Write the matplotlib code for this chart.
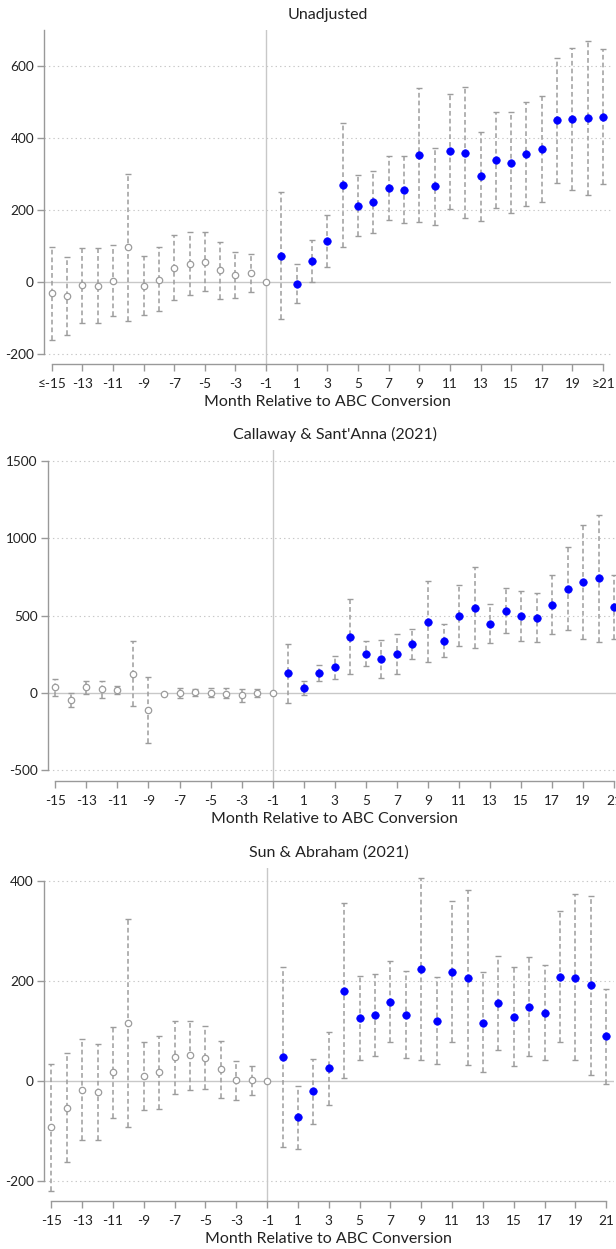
import numpy as np
import matplotlib
matplotlib.use("Agg")
import matplotlib.pyplot as plt

plt.rcParams['font.family'] = ['Lato', 'DejaVu Sans']
plt.rcParams['lines.scale_dashes'] = False

months = list(range(-15, 22))
nan = np.nan

# Panel 1: Unadjusted
unadj_est = [-32, -40, -10, -12, 3, 96, -12, 6, 38, 49, 56, 32, 18, 25, 0,
             72, -5, 58, 114, 269, 212, 223, 260, 256, 352, 267, 363, 358, 294, 339, 332, 356, 371, 450, 453, 456, 460]
unadj_lo = [-162, -149, -114, -114, -96, -110, -93, -82, -51, -37, -27, -47, -46, -28, nan,
            -105, -58, -1, 42, 97, 128, 137, 173, 163, 167, 159, 203, 177, 170, 206, 191, 211, 223, 275, 255, 242, 271]
unadj_hi = [96, 70, 95, 93, 103, 301, 71, 96, 129, 138, 139, 112, 82, 77, nan,
            251, 50, 117, 185, 443, 297, 309, 349, 351, 540, 373, 523, 541, 418, 474, 472, 501, 518, 624, 652, 671, 649]

# Panel 2: Callaway & Sant'Anna
cs_est = [37, -45, 37, 26, 19, 125, -108, -6, 2, 6, 2, -4, -15, 2, 0,
          129, 35, 129, 166, 362, 252, 218, 252, 317, 461, 338, 500, 552, 448, 530, 498, 487, 571, 675, 718, 741, 554]
cs_lo = [-17, -93, -6, -30, -6, -86, -321, nan, -30, -17, -28, -34, -56, -24, nan,
         -62, -13, 78, 93, 123, 172, 97, 125, 220, 200, 231, 302, 291, 325, 386, 334, 332, 384, 407, 351, 332, 347]
cs_hi = [88, 2, 80, 80, 45, 338, 103, nan, 34, 28, 34, 30, 26, 24, nan,
         319, 80, 181, 241, 606, 334, 340, 384, 414, 726, 448, 700, 817, 575, 677, 662, 649, 761, 946, 1084, 1151, 761]

# Panel 3: Sun & Abraham
sa_est = [-92, -54, -18, -23, 17, 116, 9, 17, 48, 51, 46, 23, 1, 1, 0,
          48, -73, -21, 25, 181, 126, 132, 159, 133, 224, 120, 218, 207, 117, 156, 129, 149, 137, 209, 207, 192, 90]
sa_lo = [-220, -162, -119, -119, -74, -93, -58, -56, -26, -19, -17, -35, -38, -28, nan,
         -132, -136, -86, -48, 6, 42, 49, 78, 46, 42, 33, 77, 31, 17, 62, 29, 50, 42, 77, 42, 12, -6]
sa_hi = [34, 55, 83, 74, 108, 324, 77, 90, 120, 121, 110, 80, 40, 30, nan,
         229, -10, 44, 98, 357, 211, 215, 241, 220, 406, 208, 360, 383, 219, 250, 229, 248, 233, 341, 374, 371, 185]

titles = ["Unadjusted", "Callaway & Sant'Anna (2021)", "Sun & Abraham (2021)"]
xtick_vals = list(range(-15, 22, 2))
xtick_labels_1 = ["\u2264-15"] + [str(v) for v in xtick_vals[1:-1]] + ["\u226521"]
xtick_labels_2 = [str(v) for v in xtick_vals]
yticks_1 = [-200, 0, 200, 400, 600]
yticks_2 = [-500, 0, 500, 1000, 1500]
yticks_3 = [-200, 0, 200, 400]

W, H = 616, 1249
fig = plt.figure(figsize=(W / 100, H / 100), dpi=100)

# (left_px, right_px, top_px, bottom_px, ylim, spine_bounds, ...)
panels = [
    (44.0, 610.7, 30, 364, (-229, 701), (-200, 700), unadj_est, unadj_lo, unadj_hi, yticks_1, xtick_labels_1),
    (47.5, 622.1, 450, 781, (-569, 1571), (-500, 1500), cs_est, cs_lo, cs_hi, yticks_2, xtick_labels_2),
    (43.6, 614.0, 868, 1201, (-241, 427), (-200, 400), sa_est, sa_lo, sa_hi, yticks_3, xtick_labels_2),
]

gray = '#9c9c9c'
light = '#c8c8c8'
spine_c = '#999999'
blue = '#0000ff'

for i, (l, r, t, b, ylim, sb, est, lo, hi, yt, xl) in enumerate(panels):
    ax = fig.add_axes([l / W, 1 - b / H, (r - l) / W, (b - t) / H])
    ax.set_xlim(-15.5, 21.5)
    ax.set_ylim(*ylim)
    m = np.array(months)
    e = np.array(est, dtype=float)
    lo_a = np.array(lo, dtype=float)
    hi_a = np.array(hi, dtype=float)

    for v in yt:
        if v != 0:
            ax.axhline(v, color='#c8c8c8', lw=0.8, ls=(0, (1, 2.2)), zorder=0)
    ax.axhline(0, color=light, lw=1.0, zorder=1)
    ax.axvline(-1, color=light, lw=1.0, zorder=1)

    ok = ~np.isnan(lo_a)
    yerr = np.vstack([e[ok] - lo_a[ok], hi_a[ok] - e[ok]])
    eb = ax.errorbar(m[ok], e[ok], yerr=yerr, fmt='none', ecolor=gray,
                     elinewidth=1.1, capsize=2.2, capthick=1.0, zorder=2)
    eb[2][0].set_linestyle((0, (3.4, 2.2)))

    pre = m <= -1
    post = m >= 0
    ax.plot(m[pre], e[pre], 'o', ms=4.6, mfc='white', mec=gray, mew=0.9, zorder=3, ls='none')
    ax.plot(m[post], e[post], 'o', ms=5.4, mfc=blue, mec=blue, mew=0.5, zorder=3, ls='none')

    for s in ['top', 'right']:
        ax.spines[s].set_visible(False)
    ax.spines['left'].set_bounds(*sb)
    ax.spines['bottom'].set_bounds(-15, 21)
    for s in ['left', 'bottom']:
        ax.spines[s].set_color(spine_c)
        ax.spines[s].set_linewidth(1.0)

    ax.set_yticks(yt)
    ax.set_yticklabels([str(v) for v in yt])
    ax.set_xticks(xtick_vals)
    ax.set_xticklabels(xl)
    ax.tick_params(axis='both', colors=spine_c, labelcolor='#222222', labelsize=9.8,
                   length=5.2, width=1.0)
    ax.tick_params(axis='y', pad=2)
    ax.tick_params(axis='x', pad=5)
    ax.set_xlabel("Month Relative to ABC Conversion", fontsize=11.5, color='#222222', labelpad=3.5)
    ax.set_title(titles[i], fontsize=11.5, color='#222222', pad=8)

fig.savefig("out.png", dpi=100)
